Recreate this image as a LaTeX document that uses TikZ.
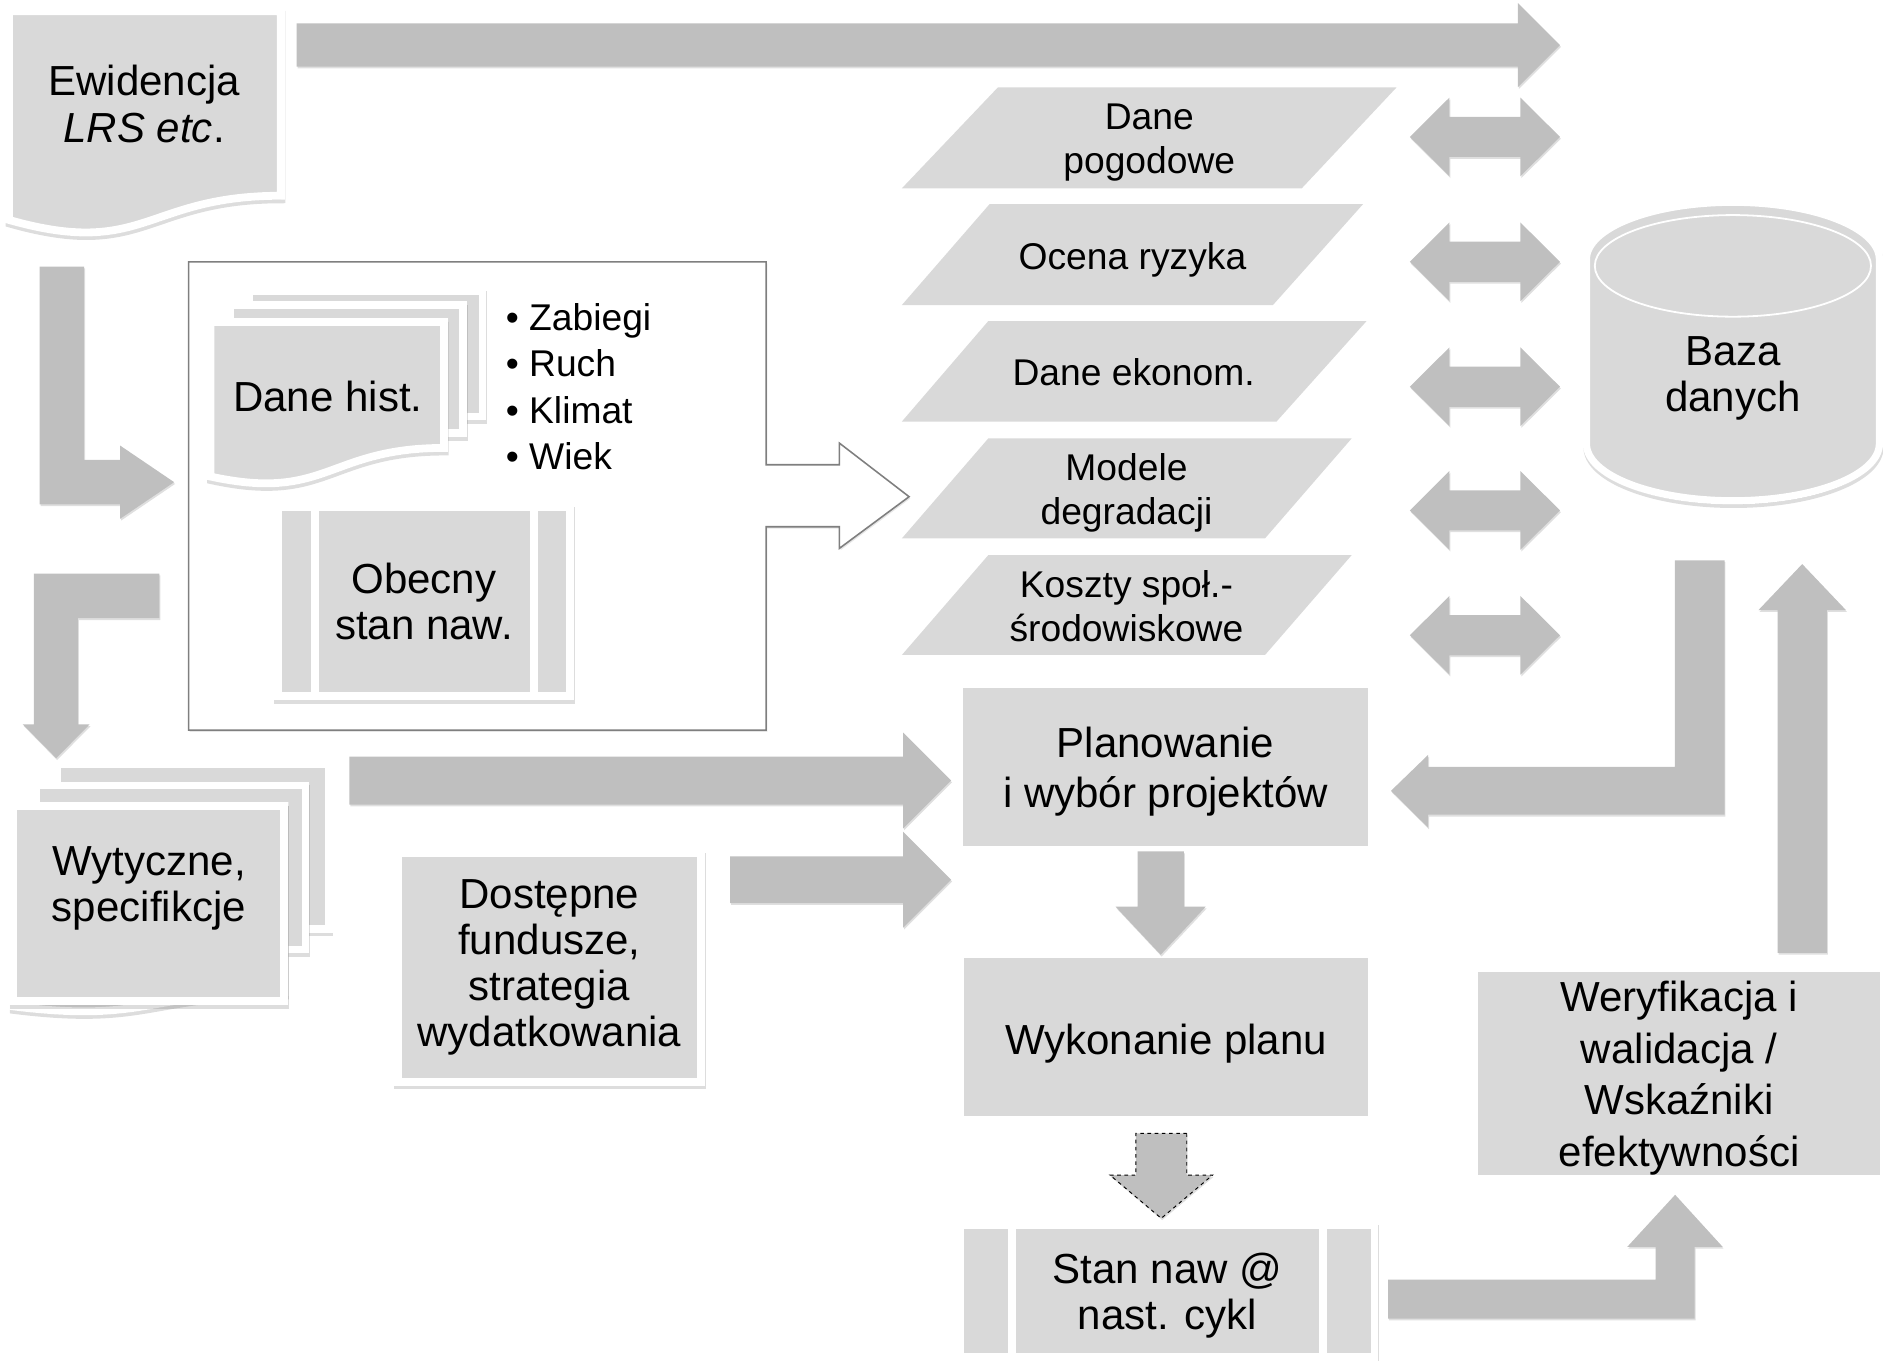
\documentclass[tikz,border=0pt]{standalone}
\usepackage{fontspec}
\setmainfont{Liberation Sans}
\usetikzlibrary{shadows}

\definecolor{boxgrau}{RGB}{217,217,217}
\definecolor{pfeilgrau}{RGB}{191,191,191}
\definecolor{rahmengrau}{RGB}{127,127,127}

\begin{document}
\begin{tikzpicture}[x=1pt,y=-1pt,
schrift/.style={font={\fontsize{35}{38.5}\selectfont},align=center,inner sep=0pt},
klein/.style={font={\fontsize{31}{37}\selectfont},align=center,inner sep=0pt},
blatt/.style={fill=boxgrau,draw=white,line width=6.5pt,
  drop shadow={shadow xshift=0.5pt,shadow yshift=-3pt,opacity=0.22,fill=black!60,draw=black!60,line width=6.5pt}},
kasten/.style={blatt,rectangle,outer sep=0pt,schrift},
feld/.style={fill=boxgrau,rectangle,outer sep=0pt,schrift},
pfeil/.style={fill=pfeilgrau,drop shadow={shadow xshift=0.8pt,shadow yshift=-1.5pt,opacity=0.25}},
streifen/.style={draw=white,line width=6.5pt},
pics/block/.style args={#1/#2/#3/#4}{code={
  \path[pfeil,pic actions] (0,-#2) -- (#1-#4,-#2) -- (#1-#4,-#3) -- (#1,0)
    -- (#1-#4,#3) -- (#1-#4,#2) -- (0,#2) -- cycle;}},
pics/doppel/.style args={#1/#2/#3/#4}{code={
  \path[pfeil] (0,0) -- (#4,-#3) -- (#4,-#2) -- (#1-#4,-#2) -- (#1-#4,-#3) -- (#1,0)
    -- (#1-#4,#3) -- (#1-#4,#2) -- (#4,#2) -- (#4,#3) -- cycle;}}]
\useasboundingbox (0,0) rectangle (1568,1133);

% Ewidencja
\draw[blatt] (7.4,9.4) -- (233.9,9.4) -- (233.9,163) .. controls (120.65,163) and (120.65,215.3) .. (7.4,183.1) -- cycle;
\node[schrift] (ewidencja) at (120,86.5) {Ewidencja\\\textit{LRS etc}.};

% Rahmen mit offenem Pfeil
\draw[rahmengrau,line width=1.3pt,fill=white,drop shadow={shadow xshift=1pt,shadow yshift=-1.5pt,opacity=0.2}]
  (157,218) -- (638,218) -- (638,387) -- (699,387) -- (699,369) -- (757,413.6) -- (699,456.6)
  -- (699,438.6) -- (638,438.6) -- (638,608) -- (157,608) -- cycle;

% Dane hist.
\draw[blatt] (207.2,242.2) rectangle (401.8,346.8);
\draw[blatt] (191.2,254.2) rectangle (385.8,360.8);
\draw[blatt] (175.2,268.2) -- (369.8,268.2) -- (369.8,373) .. controls (272.5,373) and (272.5,418) .. (175.2,396.8) -- cycle;
\node[schrift] (hist) at (273,330) {Dane hist.};
\node[klein,anchor=west,align=left,font={\fontsize{31}{38.7}\selectfont}] (punkte) at (421,322) {• Zabiegi\\• Ruch\\• Klimat\\• Wiek};

\node[kasten,minimum width=243.6,minimum height=157.6] (obecny) at (353,501) {Obecny\\stan naw.};
\draw[streifen] ([xshift=31pt]obecny.north west) -- ([xshift=31pt]obecny.south west);
\draw[streifen] ([xshift=-30pt]obecny.north east) -- ([xshift=-30pt]obecny.south east);

% Wytyczne
\draw[blatt] (47.6,636.6) rectangle (273.8,773.4);
\draw[blatt] (30.1,654.1) rectangle (254.4,790.6);
\draw[blatt] (11,671.2) -- (236.8,671.2) -- (236.8,826) .. controls (123.9,826) and (123.9,852) .. (11,838) -- cycle;
\draw[blatt] (11,671.2) rectangle (236.8,833.8);
\node[schrift] (wytyczne) at (124,740) {Wytyczne,\\specifikcje};

\node[kasten,minimum width=252.5,minimum height=190.5] (dost) at (457.5,805.5) {Dostępne\\fundusze,\\strategia\\wydatkowania};

% Daten
\fill[boxgrau] (751,156.8) -- (831,72.7) -- (1163,72.7) -- (1084,156.8) -- cycle;
\fill[boxgrau] (751,254) -- (824,170) -- (1135,170) -- (1060,254) -- cycle;
\fill[boxgrau] (751,351) -- (823,267.3) -- (1138,267.3) -- (1063,351) -- cycle;
\fill[boxgrau] (751,448.3) -- (823,365) -- (1125.6,365) -- (1053.4,448.3) -- cycle;
\fill[boxgrau] (751,545.4) -- (823,462.2) -- (1125.6,462.2) -- (1053.4,545.4) -- cycle;
\node[klein] (pogoda) at (957,118.5) {Dane\\pogodowe};
\node[klein] (ryzyko) at (943,216) {Ocena ryzyka};
\node[klein] (ekonom) at (944,310) {Dane ekonom.};
\node[klein] (modele) at (938,410.5) {Modele\\degradacji};
\node[klein] (koszty) at (938,505) {Koszty społ.-\\środowiskowe};

% Baza danych
\draw[fill=boxgrau,draw=white,line width=6pt,drop shadow={shadow xshift=0.5pt,shadow yshift=-3pt,opacity=0.22,fill=black!60,draw=black!60,line width=6pt}]
  (1321,216) .. controls (1321,189.7) and (1375.6,168.4) .. (1443,168.4)
  .. controls (1510.4,168.4) and (1565,189.7) .. (1565,216) -- (1565,369.4)
  .. controls (1565,395.7) and (1510.4,417) .. (1443,417)
  .. controls (1375.6,417) and (1321,395.7) .. (1321,369.4) -- cycle;
\draw[white,line width=1.5pt] (1443,221.4) ellipse [x radius=115pt,y radius=42.3pt];
\node[schrift] (baza) at (1443,315) {Baza\\danych};

% Planung
\node[feld,minimum width=337.4,minimum height=132,font={\fontsize{35}{42}\selectfont},text depth=0pt] (plan) at (970.5,638.8) {Planowanie\\i wybór projektów};
\node[feld,minimum width=336.4,minimum height=131.2,text height=30pt,text depth=0pt] (wyk) at (971,863.4) {Wykonanie planu};
\node[feld,minimum width=334.6,minimum height=169.3,font={\fontsize{35}{43}\selectfont},text depth=0pt] (weryf) at (1398.2,894) {Weryfikacja i\\walidacja /\\Wskaźniki\\efektywności};
\node[kasten,minimum width=344.8,minimum height=110,text depth=0pt] (stan) at (972.2,1075) {Stan naw @\\nast. cykl};
\draw[streifen] ([xshift=42.6pt]stan.north west) -- ([xshift=42.6pt]stan.south west);
\draw[streifen] ([xshift=-43.2pt]stan.north east) -- ([xshift=-43.2pt]stan.south east);

% Pfeile
\pic at (247,37.5) {block=1052/18/35/35};
\foreach \y in {114,218,322,425,529}
  \pic at (1174,\y) {doppel=125/16.7/32.8/33};
\path[pfeil] (33,222) -- (70,222) -- (70,383) -- (100,383) -- (100,371) -- (145,401.5)
  -- (100,432) -- (100,420) -- (33,420) -- cycle;
\path[pfeil] (132.8,477.6) -- (132.8,514.8) -- (64.8,514.8) -- (64.8,603.1) -- (74.7,603.1)
  -- (46.8,631.4) -- (18.9,603.1) -- (28.3,603.1) -- (28.3,477.6) -- cycle;
\pic at (291,650) {block=501/20/40/40};
\pic at (608,732.5) {block=184/19.5/40/40};
\pic[rotate=-90] at (966.5,709) {block=86/19.25/37.5/40};
\pic[rotate=-90,draw=black,dashed,line width=0.8pt] at (967,943.7) {block=70.8/21.2/42.7/36};
\path[pfeil] (1394.6,466.6) -- (1436,466.6) -- (1436,678.4) -- (1189.3,678.4) -- (1189.3,689.2)
  -- (1158.3,658.5) -- (1189.3,628.5) -- (1189.3,638.6) -- (1394.6,638.6) -- cycle;
\path[pfeil] (1155.8,1065.5) -- (1378.6,1065.5) -- (1378.6,1038.3) -- (1355,1038.3) -- (1394.9,994.9)
  -- (1434.5,1038.3) -- (1411.2,1038.3) -- (1411.2,1098) -- (1155.8,1098) -- cycle;
\pic[rotate=90] at (1500.7,793.4) {block=323.7/20.5/36.4/38.3};
\end{tikzpicture}
\end{document}
